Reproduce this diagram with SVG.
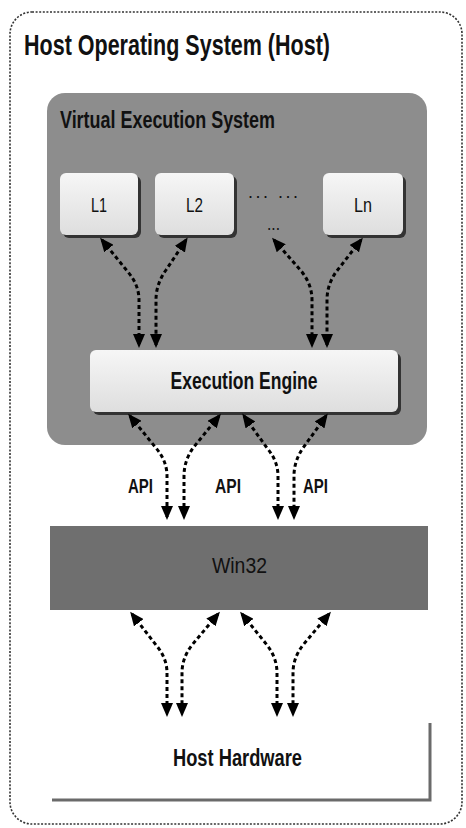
<svg xmlns="http://www.w3.org/2000/svg" width="466" height="828" viewBox="0 0 466 828">
  <defs>
    <linearGradient id="boxFill" x1="0" y1="0" x2="0" y2="1">
      <stop offset="0" stop-color="#f6f6f6"/>
      <stop offset="1" stop-color="#dedede"/>
    </linearGradient>
    <marker id="head" viewBox="0 0 14 12" markerWidth="14" markerHeight="12" refX="11" refY="6" markerUnits="userSpaceOnUse" orient="auto-start-reverse">
      <path d="M0,0 L14,6 L0,12 z" fill="#000"/>
    </marker>
    <style>
      text { font-family: "Liberation Sans Narrow", "Liberation Sans", Arial, sans-serif; fill: #111; }
      .semi { font-weight: bold; }
      .mid { text-anchor: middle; }
      .light { stroke: none; fill: url(#boxFill); }
      .shadow { fill: #333; stroke: none; }
      .link { fill: none; stroke: #000; stroke-width: 3; stroke-dasharray: 4 3; marker-start: url(#head); marker-end: url(#head); }
    </style>
  </defs>

  <rect width="466" height="828" fill="#fff"/>

  <!-- host boundary -->
  <g id="host">
    <rect x="10" y="12" width="452" height="812" rx="22" fill="none" stroke="#333" stroke-width="1.6" stroke-dasharray="2 1.6"/>
    <text x="24" y="55" font-size="30" class="semi" textLength="306" lengthAdjust="spacingAndGlyphs">Host Operating System (Host)</text>
  </g>

  <!-- virtual execution system -->
  <g id="ves">
    <rect x="47" y="93" width="380" height="352" rx="18" fill="#8d8d8d"/>
    <text x="60" y="128" font-size="23" class="semi" textLength="215" lengthAdjust="spacingAndGlyphs">Virtual Execution System</text>
  </g>

  <g id="l1">
    <rect x="63" y="176" width="78" height="62" rx="6" class="shadow"/>
    <rect x="60" y="173" width="78" height="62" rx="6" class="light"/>
    <text x="99" y="212" font-size="21" class="mid" textLength="16" lengthAdjust="spacingAndGlyphs">L1</text>
  </g>
  <g id="l2">
    <rect x="158" y="176" width="79" height="62" rx="6" class="shadow"/>
    <rect x="155" y="173" width="79" height="62" rx="6" class="light"/>
    <text x="194.5" y="212" font-size="21" class="mid" textLength="17" lengthAdjust="spacingAndGlyphs">L2</text>
  </g>
  <g id="ln">
    <rect x="326" y="176" width="80" height="62" rx="6" class="shadow"/>
    <rect x="323" y="173" width="80" height="62" rx="6" class="light"/>
    <text x="363" y="212" font-size="21" class="mid" textLength="18" lengthAdjust="spacingAndGlyphs">Ln</text>
  </g>
  <g id="ellipsis">
    <text x="248" y="198" font-size="18" textLength="50" lengthAdjust="spacing">... ...</text>
    <text x="267" y="230" font-size="18" textLength="13" lengthAdjust="spacingAndGlyphs">...</text>
  </g>

  <g id="engine">
    <rect x="93" y="353" width="308" height="62" rx="6" class="shadow"/>
    <rect x="90" y="350" width="308" height="62" rx="6" class="light"/>
    <text x="244" y="389" font-size="24" class="mid semi" textLength="147" lengthAdjust="spacingAndGlyphs">Execution Engine</text>
  </g>

  <g id="win32">
    <rect x="50" y="526" width="378" height="84" fill="#6f6f6f"/>
    <text x="239.5" y="573" font-size="22" class="mid" textLength="55" lengthAdjust="spacingAndGlyphs">Win32</text>
  </g>

  <g id="hardware">
    <path d="M52,800 L430,800 L430,723" fill="none" stroke="#6a6a6a" stroke-width="3"/>
    <text x="237.5" y="766" font-size="24" class="mid semi" textLength="129" lengthAdjust="spacingAndGlyphs">Host Hardware</text>
  </g>

  <g id="api-labels">
    <text x="128" y="493" font-size="21" class="semi" textLength="25" lengthAdjust="spacingAndGlyphs">API</text>
    <text x="215" y="493" font-size="21" class="semi" textLength="26" lengthAdjust="spacingAndGlyphs">API</text>
    <text x="303" y="493" font-size="21" class="semi" textLength="25" lengthAdjust="spacingAndGlyphs">API</text>
  </g>

  <!-- connectors -->
  <g id="connectors">
    <path class="link" d="M102,240 L128,272 Q139,285 139,300 L139,345"/>
    <path class="link" d="M186,240 L166,270 Q156,284 156,300 L156,345"/>
    <path class="link" d="M274,240 L302,272 Q312,285 312,300 L312,345"/>
    <path class="link" d="M361,240 L336,272 Q327,285 327,300 L327,345"/>

    <path class="link" d="M130,416 L156,448 Q167,461 167,476 L167,517"/>
    <path class="link" d="M219,416 L193,448 Q184,461 184,476 L184,517"/>
    <path class="link" d="M244,416 L267,448 Q278,461 278,476 L278,517"/>
    <path class="link" d="M326,416 L303,448 Q294,461 294,476 L294,517"/>

    <path class="link" d="M132,614 L156,645 Q167,658 167,673 L167,714"/>
    <path class="link" d="M218,614 L192,645 Q182,658 182,673 L182,714"/>
    <path class="link" d="M242,614 L267,645 Q277,658 277,673 L277,714"/>
    <path class="link" d="M329,614 L303,645 Q293,658 293,673 L293,714"/>
  </g>
</svg>
